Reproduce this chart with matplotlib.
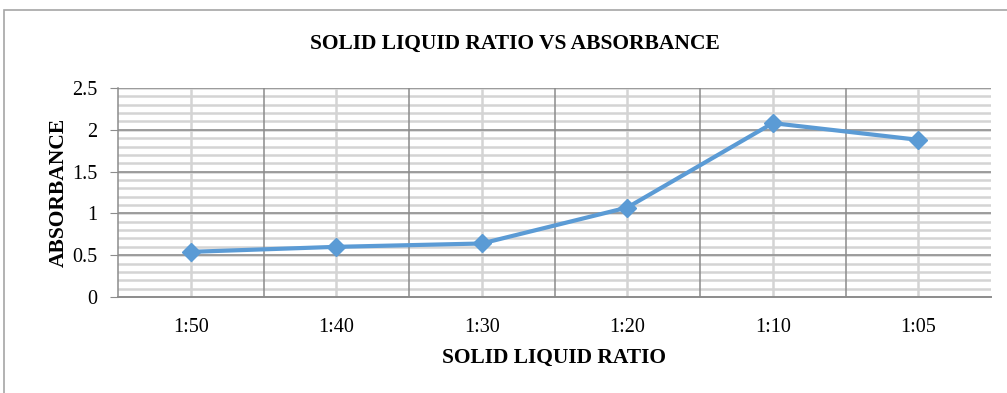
import numpy as np
import matplotlib
matplotlib.use("Agg")
import matplotlib.pyplot as plt
from matplotlib.ticker import MultipleLocator, FixedLocator, FuncFormatter
from matplotlib.patches import Rectangle

ratios = ['1:50', '1:40', '1:30', '1:20', '1:10', '1:05']
absorbance = [0.54, 0.60, 0.64, 1.07, 2.08, 1.88]

plt.rcParams['font.family'] = ['Liberation Serif', 'DejaVu Serif']

fig = plt.figure(figsize=(10.07, 3.93), dpi=100)
# outer chart frame like an Excel chart object
fig.patches.append(Rectangle((4 / 1007, -0.1), 1.2, 1.1 - 10 / 393,
                             transform=fig.transFigure, fill=False,
                             edgecolor='#a6a6a6', linewidth=1.2))

ax = fig.add_axes([118 / 1007, 96 / 393, 873 / 1007, 209 / 393])
x = np.arange(len(ratios))

ax.set_xlim(-0.5, len(ratios) - 0.5)
ax.set_ylim(0, 2.5)

ax.xaxis.set_major_locator(FixedLocator(x))
ax.yaxis.set_major_locator(MultipleLocator(0.5))
ax.set_xticklabels(ratios)
ax.yaxis.set_major_formatter(FuncFormatter(lambda v, p: f'{v:g}'))

# grid drawn by hand so the vertical lines sit over the light horizontal ones
light = '#d4d4d4'
dark = '#8c8c8c'
for v in np.arange(0.1, 2.51, 0.1):
    ax.axhline(v, color=light, linewidth=1.8, zorder=0.5)
for v in np.arange(0.5, 2.51, 0.5):
    ax.axhline(v, color=dark, linewidth=1.1, zorder=0.8)
for c in x:
    ax.axvline(c, color=light, linewidth=1.8, zorder=0.6)
for c in x[:-1] + 0.5:
    ax.axvline(c, color=dark, linewidth=1.1, zorder=0.9)

for s in ['top', 'right']:
    ax.spines[s].set_visible(False)
ax.spines['left'].set_color(dark)
ax.spines['bottom'].set_color(dark)
ax.spines['left'].set_linewidth(1.1)
ax.spines['bottom'].set_linewidth(1.4)

ax.tick_params(axis='y', which='major', length=6, color=dark, labelsize=14.5, pad=9)
ax.tick_params(axis='x', which='both', length=0, labelsize=14.5, pad=15)

ax.plot(x, absorbance, color='#5b9bd5', linewidth=3, marker='D',
        markersize=9, zorder=3, clip_on=False)

fig.text(515 / 1007, 1 - 44 / 393, 'SOLID LIQUID RATIO VS ABSORBANCE',
         ha='center', va='center', fontsize=15.5, fontweight='bold')
ax.set_xlabel('SOLID LIQUID RATIO', fontsize=15.5, fontweight='bold', labelpad=8)
ax.set_ylabel('ABSORBANCE', fontsize=15.5, fontweight='bold', labelpad=2)

fig.savefig('out.png', dpi=100)
